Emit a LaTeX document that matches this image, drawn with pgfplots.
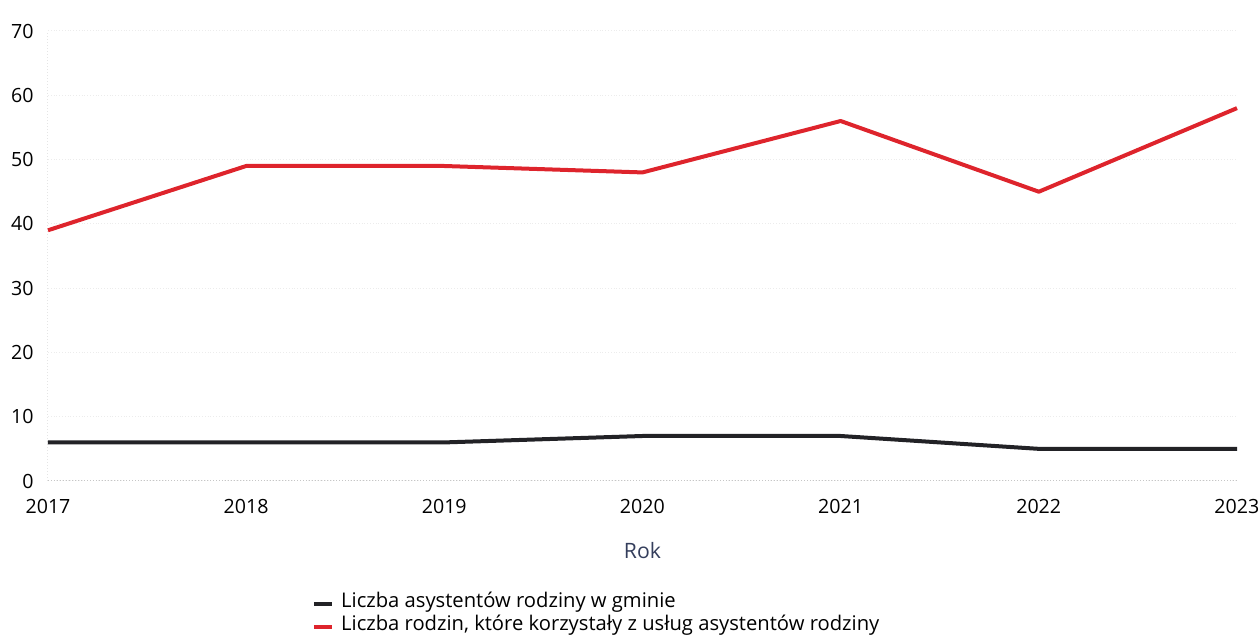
\documentclass[border=0pt]{standalone}
\usepackage{pgfplots}
\pgfplotsset{compat=1.18}
\usepackage{fontspec}
\setmainfont{Open Sans}
\definecolor{redline}{RGB}{222,36,44}
\definecolor{blackline}{RGB}{34,34,38}
\definecolor{labelblue}{RGB}{52,62,92}
\begin{document}
\begin{tikzpicture}
\begin{axis}[
  scale only axis,
  width=594.5pt, height=225pt,
  xmin=2017, xmax=2023, ymin=0, ymax=70,
  xtick={2017,...,2023},
  ytick={0,10,...,70},
  axis line style={draw=none},
  major tick length=0pt,
  ymajorgrids,
  major grid style={gray!15, densely dotted, line width=0.5pt},
  font=\fontsize{9.8}{11}\selectfont,
  /pgf/number format/assume math mode=true,
  /pgf/number format/1000 sep={},
  xticklabel style={anchor=center, yshift=-12.8pt, inner sep=0pt},
  yticklabel style={anchor=east, xshift=-7pt, inner sep=0pt},
  xlabel={Rok},
  xlabel style={at={(axis description cs:0.5,0)}, anchor=center, yshift=-35pt, text=labelblue, inner sep=0pt, font=\fontsize{10.6}{12}\selectfont},
  legend style={draw=none, fill=none, at={(axis description cs:0.2215,-0.247)}, anchor=north west,
    font=\fontsize{10.1}{12}\selectfont, inner sep=0pt, row sep=0pt,
    nodes={inner sep=0pt, text height=7.5pt, text depth=4pt},
    /tikz/every odd column/.append style={column sep=3.5pt}},
  legend cell align=left,
  legend image code/.code={\draw[#1, line width=2.2pt] (0pt,0pt) -- (9pt,0pt);},
  clip=false,
]
\draw[gray!45, densely dotted, line width=0.5pt] (rel axis cs:0,0) -- (rel axis cs:1,0);
\draw[gray!20, densely dotted, line width=0.5pt] (rel axis cs:0,0) -- (rel axis cs:0,1);
\addplot[blackline, line width=2pt, line join=round] coordinates {
  (2017,6) (2018,6) (2019,6) (2020,7) (2021,7) (2022,5) (2023,5)
};
\addlegendentry{Liczba asystentów rodziny w gminie}
\addplot[redline, line width=2pt, line join=round] coordinates {
  (2017,39) (2018,49) (2019,49) (2020,48) (2021,56) (2022,45) (2023,58)
};
\addlegendentry{Liczba rodzin, które korzystały z usług asystentów rodziny}
\coordinate (O) at (rel axis cs:0,0);
\end{axis}
\pgfresetboundingbox
\path ([shift={(-24pt,-77.5pt)}]O) rectangle ([shift={(605.5pt,240.5pt)}]O);
\end{tikzpicture}
\end{document}
